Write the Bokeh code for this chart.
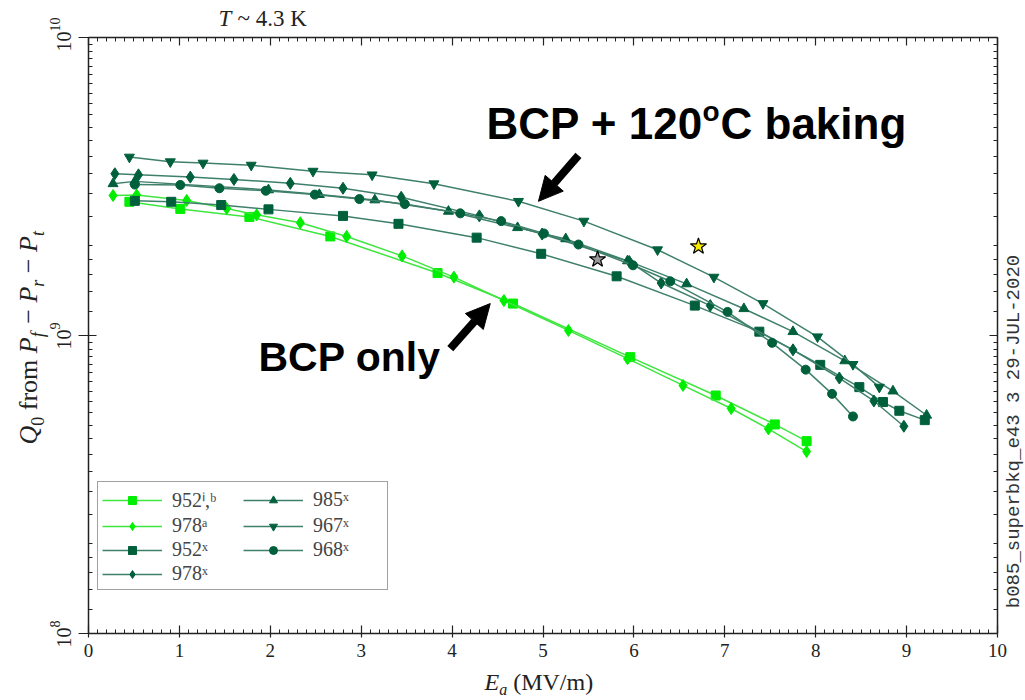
import math
from bokeh.plotting import figure
from bokeh.models import (Label, Arrow, NormalHead, LinearAxis, LogAxis, FixedTicker,
                          SingleIntervalTicker, Legend, LegendItem, Range1d,
                          CustomJSTickFormatter)
from bokeh.embed import file_html
from bokeh.resources import INLINE

# ---------------- data ----------------
E_952ib = [0.45, 1.01, 1.77, 2.66, 3.84, 4.67, 5.96, 6.90, 7.55, 7.90]
Q_952ib = [2.81e9, 2.66e9, 2.50e9, 2.15e9, 1.62e9, 1.28e9, 0.846e9, 0.629e9, 0.503e9, 0.442e9]

E_978a = [0.27, 0.53, 1.08, 1.52, 1.85, 2.33, 2.84, 3.45, 4.02, 4.57, 5.28, 5.93, 6.54, 7.07, 7.48, 7.90]
Q_978a = [2.95e9, 2.96e9, 2.84e9, 2.67e9, 2.54e9, 2.39e9, 2.15e9, 1.85e9, 1.57e9, 1.31e9,
          1.04e9, 0.836e9, 0.680e9, 0.569e9, 0.486e9, 0.408e9]

E_952x = [0.51, 0.91, 1.46, 1.98, 2.80, 3.41, 4.27, 4.98, 5.81, 6.67, 7.38, 8.05, 8.48, 8.74, 8.92, 9.20]
Q_952x = [2.83e9, 2.81e9, 2.74e9, 2.65e9, 2.52e9, 2.37e9, 2.13e9, 1.88e9, 1.58e9, 1.26e9,
          1.03e9, 0.797e9, 0.671e9, 0.598e9, 0.559e9, 0.520e9]

E_978x = [0.29, 0.55, 1.12, 1.60, 2.22, 2.80, 3.44, 4.30, 4.99, 5.95, 6.30, 6.84, 7.75, 8.26, 8.64, 8.97]
Q_978x = [3.49e9, 3.46e9, 3.40e9, 3.34e9, 3.24e9, 3.12e9, 2.91e9, 2.52e9, 2.19e9, 1.77e9,
          1.50e9, 1.26e9, 0.895e9, 0.720e9, 0.603e9, 0.496e9]

E_985x = [0.27, 0.51, 1.98, 2.54, 3.15, 3.96, 4.72, 5.25, 5.93, 6.58, 7.21, 7.75, 8.32, 8.85, 9.22]
Q_985x = [3.23e9, 3.29e9, 3.08e9, 2.97e9, 2.85e9, 2.61e9, 2.30e9, 2.11e9, 1.78e9, 1.49e9,
          1.23e9, 1.03e9, 0.822e9, 0.651e9, 0.540e9]

E_967x = [0.45, 0.90, 1.26, 1.79, 2.47, 3.12, 3.80, 4.73, 5.45, 6.26, 6.88, 7.42, 8.02, 8.41, 8.70]
Q_967x = [3.97e9, 3.83e9, 3.79e9, 3.73e9, 3.56e9, 3.46e9, 3.23e9, 2.82e9, 2.42e9, 1.94e9,
          1.57e9, 1.28e9, 0.990e9, 0.800e9, 0.671e9]

E_968x = [0.51, 1.01, 1.44, 1.95, 2.49, 2.98, 3.48, 4.09, 4.54, 5.01, 5.39, 5.99, 6.40, 7.03,
          7.52, 7.89, 8.18, 8.41]
Q_968x = [3.21e9, 3.20e9, 3.12e9, 3.06e9, 2.97e9, 2.87e9, 2.76e9, 2.57e9, 2.42e9, 2.20e9,
          2.02e9, 1.72e9, 1.52e9, 1.20e9, 0.945e9, 0.768e9, 0.637e9, 0.535e9]

STAR_E = [5.60, 6.71]
STAR_Q = [1.80e9, 1.99e9]
STAR_COLORS = ["#9a9a9a", "#f7ea00"]

LEGEND_LABELS = ["952ⁱ,ᵇ", "978ᵃ", "952ˣ", "978ˣ", "985ˣ", "967ˣ", "968ˣ"]
X_LIMITS = (0, 10)
Y_TICK_EXP = [8, 9, 10]
Y_MANTISSA_MINOR = [1.2, 1.4, 1.6, 1.8, 2, 2.5, 3, 3.5, 4, 4.5, 5, 5.5, 6, 6.5, 7, 7.5, 8, 8.5, 9, 9.5]

# arrows (annotation positions, data coords)
ARROW_BAKE = (5.39, 4.02e9, 4.95, 2.82e9)
ARROW_BCP = (3.98, 0.904e9, 4.42, 1.28e9)

# ---------------- styling / layout ----------------
BRIGHT_M = "#00ee00"
BRIGHT_L = "#3ee63e"
DARK_M = "#00603c"
DARK_L = "#3f806c"
SERIF = "Liberation Serif"
SANS = "Liberation Sans"
MONO = "Liberation Mono"
AX_COLOR = "#222222"
TXT = "#222222"

W, H = 1025, 700
FX0, FX1 = 88, 997          # canvas px of x = 0 and x = 10
FY0, FY1 = 633, 37          # canvas px of y = 1e8 and y = 1e10
PX_E = (FX1 - FX0) / 10.0
PX_DEC = (FY0 - FY1) / 2.0
BASE_FIX = 0.38             # empirical shift of Bokeh's alphabetic baseline

# frame spans the whole canvas; axes are drawn at fixed locations inside it
x0 = -FX0 / PX_E
x1 = 10 + (W - FX1) / PX_E
y0 = 10 ** (8 - (H - FY0) / PX_DEC)
y1 = 10 ** (10 + FY1 / PX_DEC)

p = figure(width=W, height=H, output_backend="svg", toolbar_location=None,
           x_range=Range1d(x0, x1), y_range=Range1d(y0, y1), y_axis_type="log",
           min_border=0, min_border_left=0, min_border_right=0, min_border_top=0,
           min_border_bottom=0, x_axis_location=None, y_axis_location=None)
p.xgrid.visible = False
p.ygrid.visible = False
p.outline_line_color = None
p.background_fill_color = "white"
p.border_fill_color = "white"

minor_y = [m * 10 ** e for e in (8, 9) for m in Y_MANTISSA_MINOR]
major_y = [10.0 ** e for e in Y_TICK_EXP]
blank = CustomJSTickFormatter(code="return ''")


def style_axis(ax, tin, tout, mtin):
    ax.major_tick_in = tin
    ax.major_tick_out = tout
    ax.minor_tick_in = mtin
    ax.minor_tick_out = 0
    ax.axis_line_color = AX_COLOR
    ax.axis_line_width = 1.5
    ax.major_tick_line_color = AX_COLOR
    ax.minor_tick_line_color = AX_COLOR
    ax.major_tick_line_width = 1.2
    ax.minor_tick_line_width = 1.0


bottom = LinearAxis(ticker=SingleIntervalTicker(interval=1, num_minor_ticks=10),
                    fixed_location=10.0 ** Y_TICK_EXP[0], bounds=X_LIMITS,
                    major_label_text_font=SERIF, major_label_text_font_size="19px",
                    major_label_text_color=TXT, major_label_standoff=6)
style_axis(bottom, 8, 4, 4)
p.add_layout(bottom, "below")

top = LinearAxis(ticker=SingleIntervalTicker(interval=1, num_minor_ticks=10),
                 fixed_location=10.0 ** Y_TICK_EXP[-1], bounds=X_LIMITS,
                 formatter=blank, major_label_standoff=0)
style_axis(top, 8, 0, 4)
p.add_layout(top, "above")

left = LogAxis(ticker=FixedTicker(ticks=major_y, minor_ticks=minor_y),
               fixed_location=X_LIMITS[0], bounds=(major_y[0], major_y[-1]),
               formatter=blank, major_label_standoff=0)
style_axis(left, 8, 10, 4)
p.add_layout(left, "left")

right = LogAxis(ticker=FixedTicker(ticks=major_y, minor_ticks=minor_y),
                fixed_location=X_LIMITS[1], bounds=(major_y[0], major_y[-1]),
                formatter=blank, major_label_standoff=0)
style_axis(right, 8, 0, 4)
p.add_layout(right, "right")

# ---------------- series ----------------
series = [
    (E_952ib, Q_952ib, "square", 9, BRIGHT_M, BRIGHT_L),
    (E_978a, Q_978a, "diamond", 12, BRIGHT_M, BRIGHT_L),
    (E_952x, Q_952x, "square", 9, DARK_M, DARK_L),
    (E_978x, Q_978x, "diamond", 12, DARK_M, DARK_L),
    (E_985x, Q_985x, "triangle", 10, DARK_M, DARK_L),
    (E_967x, Q_967x, "inverted_triangle", 10, DARK_M, DARK_L),
    (E_968x, Q_968x, "circle", 9, DARK_M, DARK_L),
]
renderers = []
for ex, qy, mk, sz, mc, lc in series:
    lr = p.line(ex, qy, line_color=lc, line_width=1.5)
    sr = p.scatter(ex, qy, marker=mk, size=sz, fill_color=mc, line_color=mc)
    renderers.append([lr, sr])

p.scatter(STAR_E, STAR_Q, marker="star", size=17, fill_color=STAR_COLORS,
          line_color="black", line_width=1.2)

# legend (location measured from the frame's bottom-left = canvas bottom-left)
items = [LegendItem(label=lab, renderers=r) for lab, r in zip(LEGEND_LABELS, renderers)]
legend = Legend(items=items, location=(97, H - 590), orientation="vertical", nrows=4,
                label_text_font=SERIF, label_text_font_size="20px",
                glyph_width=60, glyph_height=20, label_height=20, label_width=70,
                spacing=1, padding=4, margin=0, label_standoff=10,
                border_line_color="#444444", border_line_width=1.0,
                background_fill_color="white", background_fill_alpha=1.0)
p.add_layout(legend, "center")

# ---------------- arrows ----------------
for (xs, ys, xe, ye) in (ARROW_BAKE, ARROW_BCP):
    p.add_layout(Arrow(end=NormalHead(size=24, fill_color="black", line_color="black"),
                       x_start=xs, y_start=ys, x_end=xe, y_end=ye,
                       line_width=8, line_color="black"))


# ---------------- texts ----------------
def put(px, py, text, size, style="normal", font=SERIF, align="left",
        baseline="alphabetic", angle=0.0, color="black"):
    if baseline == "alphabetic":
        if angle == 0.0:
            py -= BASE_FIX * size
        else:
            px -= BASE_FIX * size
    p.add_layout(Label(x=0, y=10.0 ** Y_TICK_EXP[0], x_offset=px - FX0, y_offset=FY0 - py,
                       text=text, text_font=font, text_font_size=f"{size}px",
                       text_font_style=style, text_align=align, text_baseline=baseline,
                       angle=angle, text_color=color))


# y tick labels: 10^e rotated
for e in Y_TICK_EXP:
    py = FY0 - (e - 8) * PX_DEC
    put(63, py + 4, "10", 20, align="center", baseline="middle", angle=math.pi / 2,
        color=TXT)
    s = str(e)
    slen = 0.5 * 14 * len(s)
    put(54, py - 6 - slen / 2, s, 14, align="center", baseline="middle",
        angle=math.pi / 2, color=TXT)

# y axis label (rotated), pieces going upward: (text, size, style, sub-shift, advance)
ylab = [("Q", 26, "italic", 0, 18.8), ("0", 18, "normal", 6, 15.5),
        ("from", 26, "normal", 0, 57.0), ("P", 26, "italic", 0, 15.9),
        ("f", 18, "italic", 6, 13.5), ("−", 26, "normal", 0, 21.2),
        ("P", 26, "italic", 0, 15.9), ("r", 18, "italic", 6, 13.5),
        ("−", 26, "normal", 0, 21.2), ("P", 26, "italic", 0, 15.9),
        ("t", 18, "italic", 6, 5.0)]
cy = 444
for txt, sz, st, dx, adv in ylab:
    put(38 + dx, cy, txt, sz, style=st, angle=math.pi / 2, color=TXT)
    cy -= adv

# x axis label
xlab = [("E", 24, "italic", 0, 14.7), ("a", 16, "italic", 4, 14.0),
        ("(MV/m)", 24, "normal", 0, 80.0)]
cx = 484
for txt, sz, st, dy, adv in xlab:
    put(cx, 691 + dy, txt, sz, style=st, color=TXT)
    cx += adv

# temperature
put(218, 27, "T", 23, style="italic", color=TXT)
put(237, 27, "~ 4.3 K", 23, color=TXT)

# annotations
put(486, 140, "BCP + 120", 44, style="bold", font=SANS)
put(702, 122, "o", 28, style="bold", font=SANS)
put(720, 140, "C baking", 44, style="bold", font=SANS)
put(258, 372, "BCP only", 41, style="bold", font=SANS)

# right side stamp
put(1013, 431, "b085_superbkq_e43 3 29-JUL-2020", 19, font=MONO, align="center",
    baseline="middle", angle=math.pi / 2, color="#333333")

open("out.html", "w").write(file_html(p, INLINE))
